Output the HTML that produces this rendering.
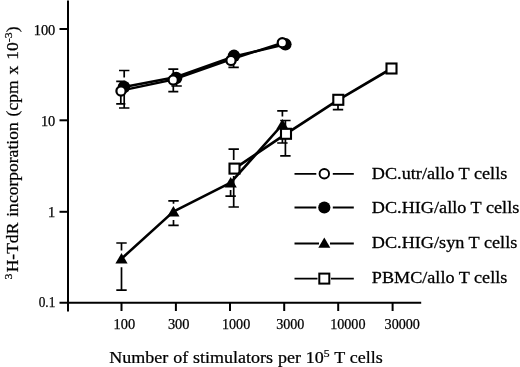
<!DOCTYPE html><html><head><meta charset="utf-8"><title>chart</title>
<style>html,body{margin:0;padding:0;background:#fff}svg{display:block}text{font-family:"Liberation Serif", serif;fill:#000;stroke:#000;stroke-width:0.25px}</style></head><body>
<svg width="520" height="367" viewBox="0 0 520 367">
<rect width="520" height="367" fill="#fff"/>
<g stroke="#000" stroke-width="2" fill="none" stroke-linecap="butt">
<line x1="68" y1="0.5" x2="68" y2="311.5"/>
<line x1="59.5" y1="302.7" x2="421.2" y2="302.7"/>
<line x1="59.5" y1="29" x2="68" y2="29"/>
<line x1="59.5" y1="120.3" x2="68" y2="120.3"/>
<line x1="59.5" y1="211.8" x2="68" y2="211.8"/>
<line x1="121.5" y1="302.7" x2="121.5" y2="311"/>
<line x1="175.9" y1="302.7" x2="175.9" y2="311"/>
<line x1="230" y1="302.7" x2="230" y2="311"/>
<line x1="284.2" y1="302.7" x2="284.2" y2="311"/>
<line x1="338.2" y1="302.7" x2="338.2" y2="311"/>
<line x1="392.6" y1="302.7" x2="392.6" y2="311"/>
</g>
<text x="33.699999999999996" y="34.5" font-size="13.6" textLength="21.6" lengthAdjust="spacingAndGlyphs">100</text>
<text x="40.9" y="125.6" font-size="13.6" textLength="14.4" lengthAdjust="spacingAndGlyphs">10</text>
<text x="48.099999999999994" y="217.2" font-size="13.6" textLength="7.2" lengthAdjust="spacingAndGlyphs">1</text>
<text x="38.699999999999996" y="307.3" font-size="13.6" textLength="16.6" lengthAdjust="spacingAndGlyphs">0.1</text>
<text x="113.5" y="329" font-size="13.6" textLength="21.6" lengthAdjust="spacingAndGlyphs">100</text>
<text x="167.9" y="329" font-size="13.6" textLength="21.6" lengthAdjust="spacingAndGlyphs">300</text>
<text x="222" y="329" font-size="13.6" textLength="28.2" lengthAdjust="spacingAndGlyphs">1000</text>
<text x="276.2" y="329" font-size="13.6" textLength="28.2" lengthAdjust="spacingAndGlyphs">3000</text>
<text x="330.2" y="329" font-size="13.6" textLength="35.3" lengthAdjust="spacingAndGlyphs">10000</text>
<text x="384.6" y="329" font-size="13.6" textLength="35.3" lengthAdjust="spacingAndGlyphs">30000</text>
<text transform="translate(109.3,363.2) scale(1,0.93)" font-size="17" textLength="273.5" lengthAdjust="spacingAndGlyphs" word-spacing="0.4">Number of stimulators per 10<tspan dy="-7" font-size="11">5</tspan><tspan dy="7"> T cells</tspan></text>
<text transform="translate(18,279.5) rotate(-90) scale(1,0.95)" font-size="17" textLength="253" lengthAdjust="spacingAndGlyphs" word-spacing="1.5"><tspan dy="-6.5" font-size="11.5">3</tspan><tspan dy="6.5" dx="1.2">H-TdR incorporation (cpm x 10</tspan><tspan dy="-6.5" font-size="11.5">-3</tspan><tspan dy="6.5">)</tspan></text>
<path d="M119.0 70.5H129.4M124.2 70.5V77.5M119.0 108H129.4M124.2 108V93M171.4 86H181.79999999999998M176.6 86V84M228.4 67.3H238.79999999999998M233.6 67.3V62M116.2 81.4H125.39999999999999M120.8 81.4V85M116.2 103.8H125.39999999999999M120.8 103.8V96M168.3 69.2H178.3M173.3 69.2V74M168.3 91.7H178.3M173.3 91.7V86M116.3 243H126.7M121.5 243V250.5M116.3 290.1H126.7M121.5 290.1V267.2M168.3 200.9H178.7M173.5 200.9V203.8M168.3 225.4H178.7M173.5 225.4V220M225.4 196.2H235.79999999999998M230.6 196.2V190M277.2 110.9H287.59999999999997M282.4 110.9V116.5M277.2 143H287.59999999999997M282.4 143V130M228.5 149.2H238.89999999999998M233.7 149.2V160M228.5 207H238.89999999999998M233.7 207V176M280.2 120.5H290.59999999999997M285.4 120.5V126M280.2 155.8H290.59999999999997M285.4 155.8V139M332.8 109.6H343.2M338 109.6V105" stroke="#000" stroke-width="1.7" fill="none"/>
<polyline points="234.5,168.6 286,133.8 338.3,99.8 391.5,68.5" fill="none" stroke="#000" stroke-width="2.7" stroke-linejoin="round"/>
<rect x="229.5" y="163.6" width="10" height="10" fill="#fff" stroke="#000" stroke-width="2.1"/>
<rect x="281" y="128.8" width="10" height="10" fill="#fff" stroke="#000" stroke-width="2.1"/>
<rect x="333.3" y="94.8" width="10" height="10" fill="#fff" stroke="#000" stroke-width="2.1"/>
<rect x="386.5" y="63.5" width="10" height="10" fill="#fff" stroke="#000" stroke-width="2.1"/>
<polyline points="121.5,258.7 173.4,211.6 230.7,182.7 282.4,124.5" fill="none" stroke="#000" stroke-width="2.6" stroke-linejoin="round"/>
<path d="M121.5 253.1L127.6 263.5H115.4Z" fill="#000"/>
<path d="M173.4 206.0L179.5 216.4H167.3Z" fill="#000"/>
<path d="M230.7 177.1L236.79999999999998 187.5H224.6Z" fill="#000"/>
<path d="M282.4 118.9L288.5 129.3H276.29999999999995Z" fill="#000"/>
<polyline points="124,87 176.3,77.0 234,56.4 285.4,44.3" fill="none" stroke="#000" stroke-width="2.4" stroke-linejoin="round"/>
<circle cx="124" cy="87" r="6.2" fill="#000"/>
<circle cx="176.2" cy="78" r="6.2" fill="#000"/>
<circle cx="234" cy="55.8" r="6.2" fill="#000"/>
<circle cx="285.4" cy="44.3" r="6.2" fill="#000"/>
<polyline points="121,90.6 173.3,79.6 231,59.3 282.3,42.9" fill="none" stroke="#000" stroke-width="2.4" stroke-linejoin="round"/>
<circle cx="121" cy="91" r="4.6" fill="#fff" stroke="#000" stroke-width="2.2"/>
<circle cx="173.2" cy="80" r="4.6" fill="#fff" stroke="#000" stroke-width="2.2"/>
<circle cx="231" cy="60.4" r="4.6" fill="#fff" stroke="#000" stroke-width="2.2"/>
<circle cx="282.3" cy="42.8" r="4.6" fill="#fff" stroke="#000" stroke-width="2.2"/>
<path d="M294.5 173.8H316.3M332.8 173.8H353.8" stroke="#000" stroke-width="1.8"/>
<path d="M294.5 207.5H316.3M332.8 207.5H353.8" stroke="#000" stroke-width="1.8"/>
<path d="M294.5 243.5H319M330 243.5H353.8" stroke="#000" stroke-width="1.8"/>
<path d="M294.5 278.6H317.5M331 278.6H353.8" stroke="#000" stroke-width="1.8"/>
<circle cx="324.3" cy="173.8" r="4.75" fill="#fff" stroke="#000" stroke-width="1.9"/>
<circle cx="324.3" cy="207.5" r="6.1" fill="#000"/>
<path d="M324.3 237.5L330.3 247.8H318.3Z" fill="#000"/>
<rect x="319.3" y="273.6" width="10" height="10" fill="#fff" stroke="#000" stroke-width="2"/>
<text transform="translate(371.8,179.2) scale(1,0.95)" font-size="18" style="stroke-width:0.3px" textLength="135.5" lengthAdjust="spacingAndGlyphs">DC.utr/allo T cells</text>
<text transform="translate(371.8,213) scale(1,0.95)" font-size="18" style="stroke-width:0.3px" textLength="147.5" lengthAdjust="spacingAndGlyphs">DC.HIG/allo T cells</text>
<text transform="translate(371.8,248) scale(1,0.95)" font-size="18" style="stroke-width:0.3px" textLength="145.5" lengthAdjust="spacingAndGlyphs">DC.HIG/syn T cells</text>
<text transform="translate(371.8,283.4) scale(1,0.95)" font-size="18" style="stroke-width:0.3px" textLength="135.5" lengthAdjust="spacingAndGlyphs">PBMC/allo T cells</text>
</svg></body></html>
